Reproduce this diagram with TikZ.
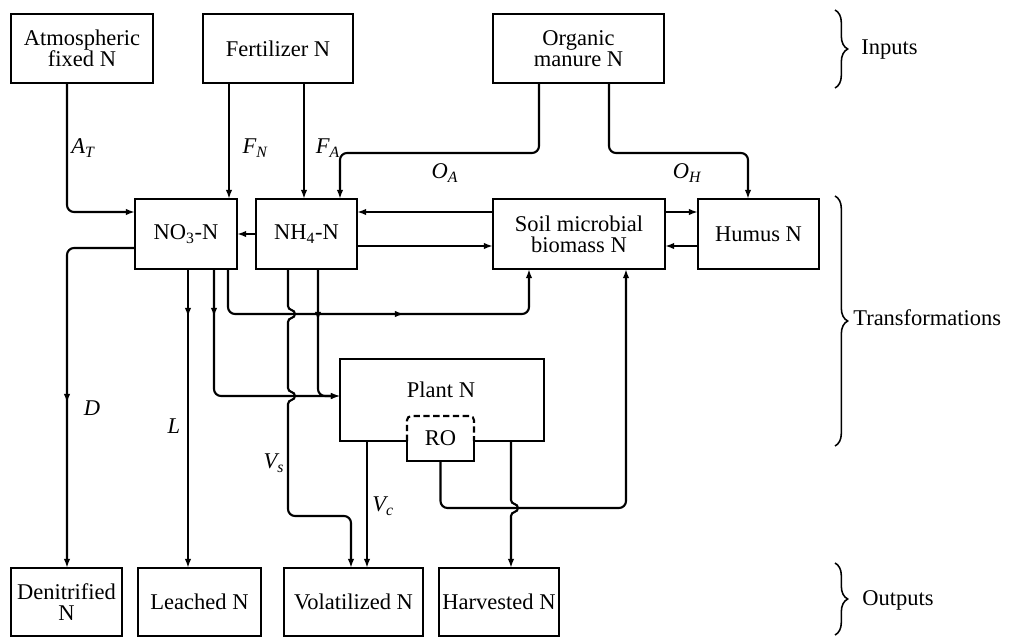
\documentclass[tikz,border=0pt]{standalone}
\usepackage{fontspec}
\setmainfont{Liberation Serif}
\usetikzlibrary{arrows.meta,decorations.markings,decorations.pathreplacing}
\begin{document}
\begin{tikzpicture}[x=0.025cm,y=-0.025cm,
  font=\fontsize{16}{15}\selectfont,
  ln/.style={line width=1.5pt},
  bx/.style 2 args={draw, line width=1.6pt, inner sep=0pt, outer sep=0pt, align=center,
    minimum width=#1*0.025cm, minimum height=#2*0.025cm},
  hid/.style 2 args={inner sep=0pt, outer sep=0pt, align=center,
    minimum width=#1*0.025cm, minimum height=#2*0.025cm},
  tip/.style={-{Latex[length=6.5pt,width=4.6pt]}},
  arr/.style={ln, tip, rounded corners=5pt},
  midarr/.style={postaction={decorate, decoration={markings,
    mark=at position #1 with {\arrow{Latex[length=6.5pt,width=4.6pt]}}}}},
  lbl/.style={inner sep=0pt, font=\fontsize{16}{15}\selectfont\itshape},
  brc/.style={line width=1.1pt, decorate, decoration={brace, amplitude=9pt}},
  side/.style={anchor=west, inner sep=0pt}]
\useasboundingbox (0,0) rectangle (1016,638);
\fill[white] (0,0) rectangle (1016,638);

% columns and rows
\path (67,0) coordinate (cA) (229,0) coordinate (cFN) (304,0) coordinate (cFA)
      (539,0) coordinate (cOA) (340,0) coordinate (cOAb) (609,0) coordinate (cOH)
      (748,0) coordinate (cOHb) (188,0) coordinate (cL) (214,0) coordinate (cP)
      (228,0) coordinate (cS) (288,0) coordinate (cVs) (318,0) coordinate (cNP)
      (351,0) coordinate (cVsb) (367,0) coordinate (cVc) (511,0) coordinate (cH)
      (529,0) coordinate (cSb) (626,0) coordinate (cR);
\path (0,212) coordinate (rA) (0,246) coordinate (rB) (0,153) coordinate (rO)
      (0,248) coordinate (rD) (0,314) coordinate (rS) (0,396) coordinate (rP)
      (0,508) coordinate (rR) (0,516) coordinate (rV) (0,306) coordinate (rS0)
      (0,388) coordinate (rP0) (0,500) coordinate (rR0);

% inputs
\node[bx={142}{69}] (atm) at (82,48.5) {Atmospheric\\fixed N};
\node[bx={150}{69}] (fert) at (278,48.5) {Fertilizer N};
\node[bx={171}{69}] (org) at (578.5,48.5) {Organic\\manure N};

% transformations
\node[bx={102}{70}] (no3) at (186,234) {NO\textsubscript{3}-N};
\node[bx={101}{70}] (nh4) at (306.5,234) {NH\textsubscript{4}-N};
\node[bx={172}{70}] (soil) at (579,234) {Soil microbial\\biomass N};
\node[bx={121}{70}] (hum) at (758.5,234) {Humus N};

\node[hid={204}{82}] (plant) at (442,400) {};
\node[inner sep=0pt] (plantlbl) at (441,390) {Plant N};
\node[hid={67}{45}] (ro) at (440.5,438.5) {RO};
\draw[line width=1.6pt] (plant.north west) -- (plant.north east) -- (plant.south east)
  -- (ro.east |- plant.south) -- (ro.south east) -- (ro.south west)
  -- (ro.west |- plant.south) -- (plant.south west) -- cycle;
\draw[line width=1.5pt, dash pattern=on 4.5pt off 2.5pt, rounded corners=3pt]
  (ro.west |- plant.south) -- (ro.north west) -- (ro.north east) -- (ro.east |- plant.south);

% outputs
\node[bx={111}{68}] (den) at (66.5,602) {Denitrified\\N};
\node[bx={123}{68}] (lea) at (199.5,602) {Leached N};
\node[bx={139}{68}] (vol) at (353.5,602) {Volatilized N};
\node[bx={120}{68}] (har) at (499,602) {Harvested N};

% input flows
\draw[arr] (atm.south -| cA) |- (no3.west |- rA);
\draw[arr] (fert.south -| cFN) -- (no3.north -| cFN);
\draw[arr] (fert.south -| cFA) -- (nh4.north -| cFA);
\draw[arr] (org.south -| cOA) -- (cOA |- rO) -- (cOAb |- rO) -- (nh4.north -| cOAb);
\draw[arr] (org.south -| cOH) -- (cOH |- rO) -- (cOHb |- rO) -- (hum.north -| cOHb);

% transformations flows
\draw[arr] (nh4.west) -- (no3.east);
\draw[arr] (soil.west |- rA) -- (nh4.east |- rA);
\draw[arr] (nh4.east |- rB) -- (soil.west |- rB);
\draw[arr] (soil.east |- rA) -- (hum.west |- rA);
\draw[arr] (hum.west |- rB) -- (soil.east |- rB);

\draw[arr, midarr=5.5cm] (no3.west |- rD) -| (den.north -| cA);
\draw[arr, midarr=1.2cm] (no3.south -| cL) -- (lea.north -| cL);
\draw[arr, midarr=1.2cm] (no3.south -| cP) -- (cP |- rP) -- (plant.west |- rP);
\draw[arr, midarr=5.45cm] (no3.south -| cS) -- (cS |- rS) -- (cSb |- rS) -- (soil.south -| cSb);
\draw[arr, midarr=1.3cm] (nh4.south -| cNP) -- (cNP |- rP) -- (plant.west |- rP);

% volatilization from soil (with jumps)
\draw[ln, tip] (nh4.south -| cVs) -- (cVs |- rS0)
  .. controls +(0,5) and +(0,-5) .. ++(7,8)
  .. controls +(0,5) and +(0,-5) .. ++(-7,8)
  -- (cVs |- rP0)
  .. controls +(0,5) and +(0,-5) .. ++(7,8)
  .. controls +(0,5) and +(0,-5) .. ++(-7,8)
  [rounded corners=5pt] -- (cVs |- rV) -- (cVsb |- rV) -- (vol.north -| cVsb);
\draw[arr] (plant.south -| cVc) -- (vol.north -| cVc);

% RO return to biomass and harvest
\draw[arr] (ro.south) -- (ro.south |- rR) -- (cR |- rR) -- (soil.south -| cR);
\draw[ln, tip] (plant.south -| cH) -- (cH |- rR0)
  .. controls +(0,5) and +(0,-5) .. ++(7,8)
  .. controls +(0,5) and +(0,-5) .. ++(-7,8)
  -- (har.north -| cH);

% flow labels
\node[lbl] (lAT) at (83,148) {A\textsubscript{T}};
\node[lbl] (lFN) at (255,148) {F\textsubscript{N}};
\node[lbl] (lFA) at (328,148) {F\textsubscript{A}};
\node[lbl] (lOA) at (445,173) {O\textsubscript{A}};
\node[lbl] (lOH) at (687,173) {O\textsubscript{H}};
\node[lbl] (lD) at (92,408) {D};
\node[lbl] (lL) at (174,426) {L};
\node[lbl] (lVs) at (274,463) {V\textsubscript{s}};
\node[lbl] (lVc) at (383,506) {V\textsubscript{c}};

% braces
\draw[brc] (835,10) -- (835,88);
\node[side] (tin) at (861,50) {Inputs};
\draw[brc] (835,196) -- (835,446);
\node[side] (ttr) at (853,318) {Transformations};
\draw[brc] (835,563) -- (835,635);
\node[side] (tout) at (862,600) {Outputs};
\end{tikzpicture}
\end{document}
